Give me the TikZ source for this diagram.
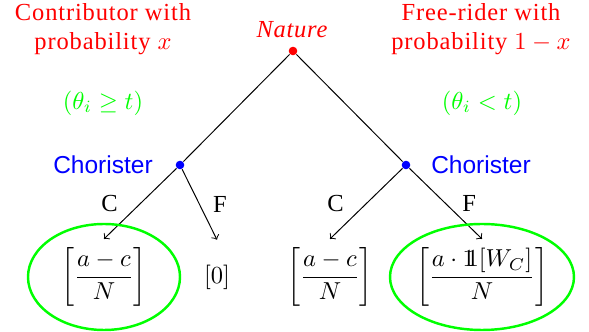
\documentclass[tikz,border=0pt]{standalone}
\usepackage{amsmath}
\usepackage{amssymb}
\usepackage[no-math]{fontspec}
\setmainfont{Liberation Serif}
\setsansfont{Liberation Sans}
\usetikzlibrary{positioning}
\newcommand{\indic}{\mathrm{1}\mkern-6mu\mathrm{1}}
\begin{document}
\begin{tikzpicture}[x=0.408pt, y=-0.408pt,
  dot/.style={circle, inner sep=0pt, minimum size=3.5pt},
  leaf/.style={minimum height=30pt},
  prob/.style={red, align=center, font=\addfontfeatures{LetterSpace=3.5}},
  ring/.style={draw=green, line width=1pt}]
\useasboundingbox (0,0) rectangle (589,332);
\node[dot, fill=red] (n) at (293,51) {};
\node[prob, font=\itshape\addfontfeatures{LetterSpace=3}] (nl) at (292,30) {Nature};
\node[prob] (pl) at (103,29) {Contributor with\\probability $x$};
\node[prob] (pr) at (481,29) {Free-rider with\\probability $1-x$};
\node[green] (tl) at (103,103) {$(\theta_i\geq t)$};
\node[green] (tr) at (482,103) {$(\theta_i<t)$};
\node[dot, fill=blue] (cl) at (180,165) {}; \node[blue, font=\sffamily] (kl) at (103,165) {Chorister};
\node[dot, fill=blue] (cr) at (406,165) {}; \node[blue, font=\sffamily] (kr) at (481,165) {Chorister};
\node[leaf] (a) at (104,277) {$\left[\dfrac{a-c}{N}\right]$};
\node[leaf] (b) at (217,277) {$[0]$};
\node[leaf] (c) at (330,277) {$\left[\dfrac{a-c}{N}\right]$};
\node[leaf] (d) at (482,277) {$\left[\dfrac{a\cdot\indic[W_C]}{N}\right]$};
\draw (n) -- (cl);
\draw (n) -- (cr);
\draw[->] (cl) -- node[left=5.7pt] {C} (a.north);
\draw[->] (cl) -- node[right=2pt] {F} (b.north);
\draw[->] (cr) -- node[left=5.7pt] {C} (c.north);
\draw[->] (cr) -- node[right=3.3pt] {F} (d.north);
\draw[ring] (a) ellipse [x radius=76, y radius=53];
\draw[ring] (d) ellipse [x radius=92, y radius=53];
\end{tikzpicture}
\end{document}
